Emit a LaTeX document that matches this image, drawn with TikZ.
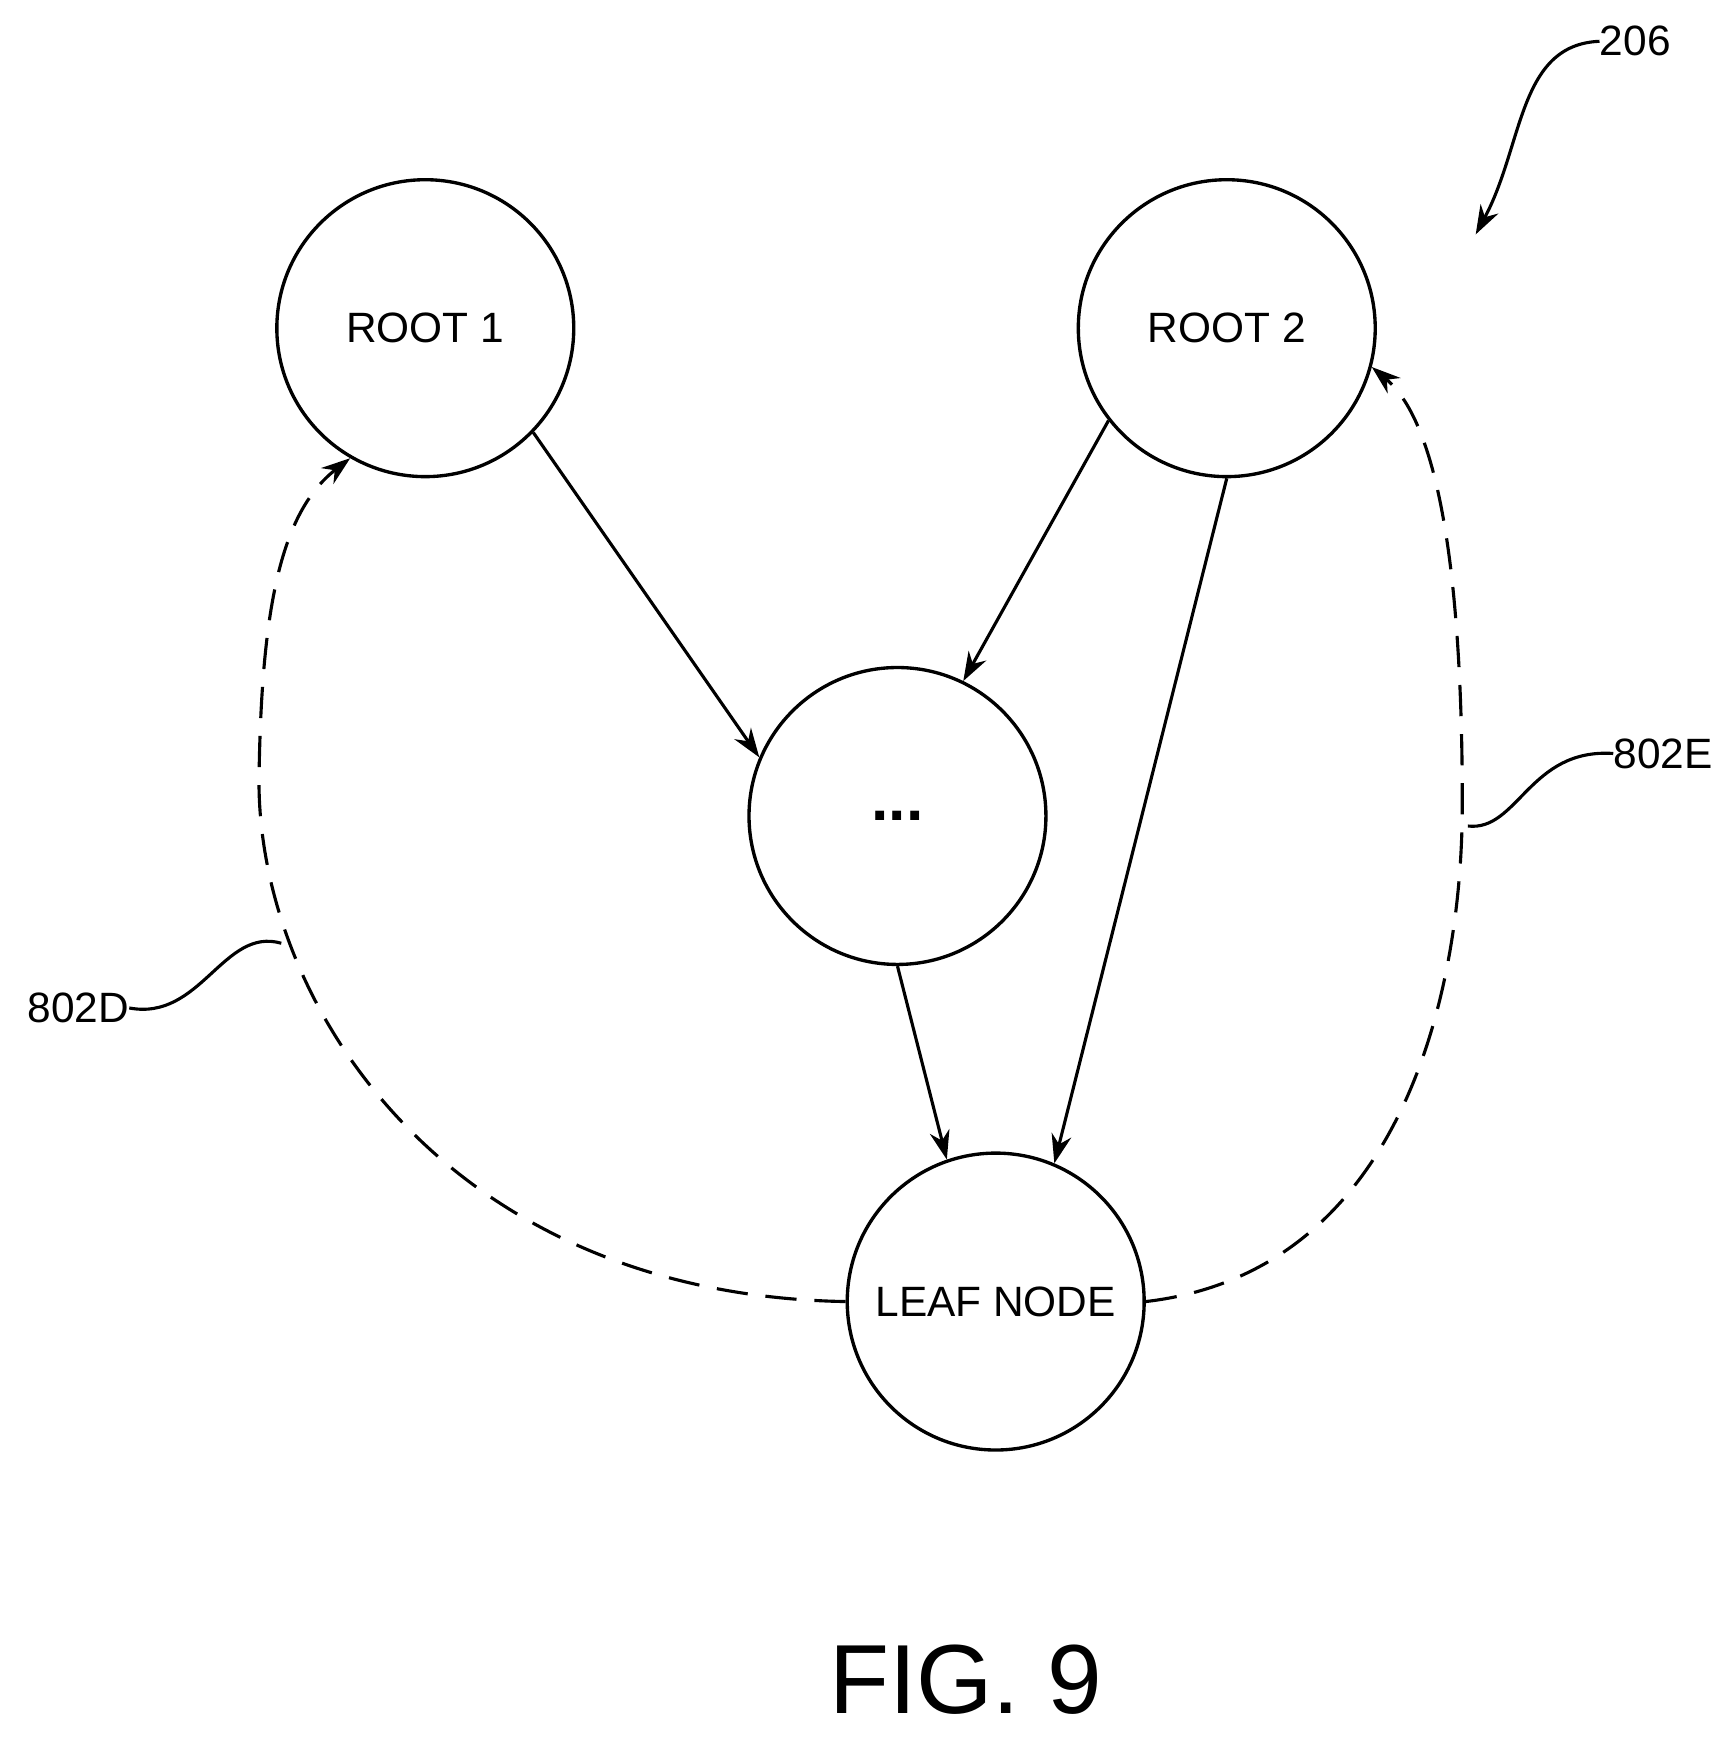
\documentclass[tikz,border=0pt]{standalone}
\usepackage{fontspec}
\setmainfont{Liberation Sans}
\usetikzlibrary{arrows.meta}
\begin{document}
\begin{tikzpicture}[x=0.5pt,y=-0.5pt,
  circ/.style={circle,draw,line width=1.5pt,minimum size=133pt,inner sep=0pt,font=\fontsize{19}{22}\selectfont},
  arr/.style={line width=1.4pt,-{Stealth[length=13pt,width=9pt]}},
  dsh/.style={arr,dash pattern=on 14pt off 8pt},
  lead/.style={line width=1.4pt},
  lbl/.style={font=\fontsize{19}{22}\selectfont,inner sep=0pt}]
\useasboundingbox (0,0) rectangle (1548,1557);
\node[circ] (r1) at (381,294) {ROOT 1};
\node[circ] (r2) at (1099,294) {ROOT 2};
\node[circ] (d) at (804,731) {\textbf{\fontsize{28}{28}\selectfont ...}};
\node[circ] (lf) at (892,1166) {LEAF NODE};
\draw[arr] (r1.-44) -- (d.157);
\draw[arr] (r2.-142) -- (d.64);
\draw[arr] (r2.270) -- (lf.67);
\draw[arr] (d.270) -- (lf.109);
\draw[dsh] (lf.west) .. controls (400,1160) and (232,900) .. (232,700) .. controls (234,550) and (250,460) .. (r1.-120);
\draw[dsh] (lf.east) .. controls (1250,1140) and (1310,900) .. (1310,720) .. controls (1310,520) and (1290,380) .. (r2.-15);
\node[lbl] (l206) at (1465,37) {206};
\node[lbl] (lD) at (70,903) {802D};
\node[lbl] (lE) at (1490,675) {802E};
\coordinate (t206) at (1322,210);
\coordinate (tD) at (252,845);
\coordinate (tE) at (1315,740);
\draw[lead,-{Stealth[length=13pt,width=9pt]}] (l206.west) .. controls (1360,40) and (1365,130) .. (t206);
\draw[lead] (lD.east) .. controls (180,915) and (200,830) .. (tD);
\draw[lead] (lE.west) .. controls (1370,670) and (1360,745) .. (tE);
\node[font=\fontsize{44}{48}\selectfont] (fig) at (865,1505) {FIG. 9};
\end{tikzpicture}
\end{document}
